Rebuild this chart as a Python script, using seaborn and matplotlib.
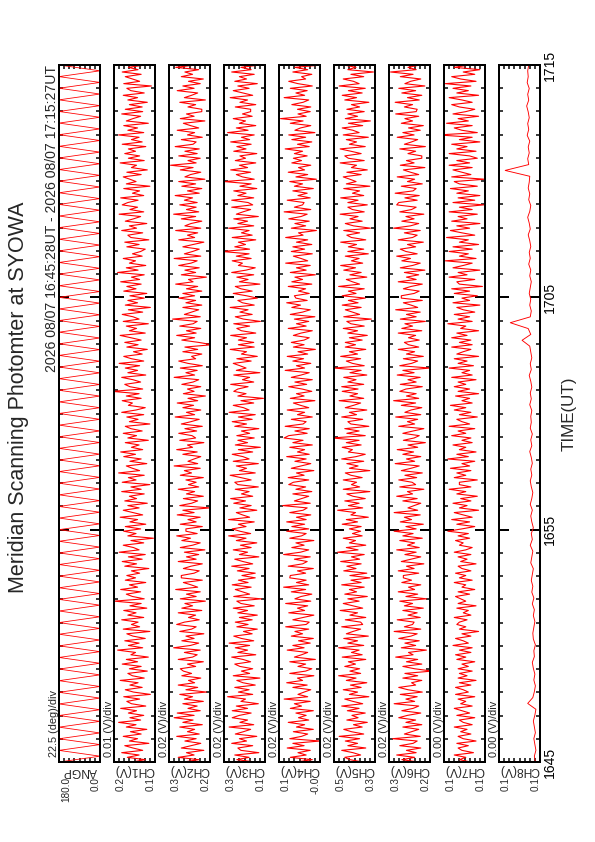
import numpy as np
import matplotlib
matplotlib.use('Agg')
import matplotlib.pyplot as plt
from matplotlib.ticker import FixedLocator, MultipleLocator
import seaborn as sns

# chart texts
title = 'Meridian Scanning Photomter at SYOWA'
period = '2026 08/07 16:45:28UT - 2026 08/07 17:15:27UT'
time_ticks = [0, 10, 20, 30]          # minutes after 16:45
time_labels = ['1645', '1655', '1705', '1715']

# panels (left to right)
names = ['ANGP', 'CH1(V)', 'CH2(V)', 'CH3(V)', 'CH4(V)', 'CH5(V)', 'CH6(V)', 'CH7(V)', 'CH8(V)']
units = ['deg', 'V', 'V', 'V', 'V', 'V', 'V', 'V', 'V']
lows = [0.0, 0.13, 0.17, 0.14, -0.03, 0.34, 0.18, 0.090, 0.100]
divs = [22.5, 0.01, 0.02, 0.02, 0.02, 0.02, 0.02, 0.004, 0.001]

# scan angle (deg), turning points of the meridian scan
angp = [180, 0, 180, 0, 180, 0, 180, 0, 180, 0, 180, 0, 180, 0, 180, 0, 180, 0, 180, 0,
        180, 0, 180, 0, 180, 0, 180, 0, 180, 0, 180, 0, 180, 0, 180, 0, 180, 0, 180, 0,
        180, 0, 180, 0, 180, 0, 180, 0, 180, 0, 180, 0, 180, 0, 180, 0, 180, 0, 180, 0,
        180, 0, 180, 0, 180, 0, 180, 0, 180, 0, 180, 0, 180, 0, 180, 0, 180, 0, 180, 0,
        180, 0, 180, 0, 180, 0, 180, 0, 180, 0, 180, 0, 180, 0, 180, 0, 180, 0, 180, 0,
        180, 0, 180, 0, 180, 0, 180, 0, 180, 0, 180, 0, 180, 0, 180, 0, 180, 0, 180, 0, 180]

# photometer channels (mV), 16:45 -> 17:15
ch1 = [175, 149, 184, 161, 195, 154, 173, 189, 142, 180, 164, 192, 157, 178, 146, 186, 167, 201, 158, 179,
       152, 182, 166, 197, 148, 176, 185, 160, 191, 139, 172, 188, 155, 179, 163, 198, 151, 174, 183, 145,
       180, 157, 194, 164, 186, 143, 177, 168, 203, 154, 182, 161, 189, 149, 173, 185, 140, 192, 160, 176,
       163, 195, 152, 183, 167, 191, 146, 179, 157, 210, 151, 174, 186, 158, 197, 164, 180, 148, 188, 168,
       185, 160, 176, 142, 189, 166, 194, 155, 182, 149, 200, 161, 172, 192, 152, 177, 133, 183, 167, 191,
       158, 188, 148, 179, 164, 198, 154, 173, 192, 161, 183, 145, 189, 166, 180, 151, 195, 157, 177, 140,
       194, 167, 182, 151, 201, 160, 174, 186, 146, 179, 157, 191, 168, 197, 154, 176, 161, 188, 143, 183,
       166, 192, 155, 177, 188, 140, 180, 163, 185, 152, 195, 167, 149, 182, 174, 194, 157, 186, 161, 214,
       154, 179, 189, 158, 173, 195, 148, 183, 164, 188, 160, 200, 152, 176, 191, 155, 172, 145, 185, 163,
       189, 157, 177, 198, 149, 180, 166, 186, 143, 192, 161, 173, 194, 154, 182, 139, 188, 164, 183, 151,
       179, 146, 191, 167, 185, 157, 197, 160, 176, 151, 203, 163, 186, 148, 180, 168, 192, 155, 174, 158,
       149, 185, 161, 189, 142, 177, 183, 154, 195, 166, 180, 146, 188, 172, 158, 200, 152, 179, 164, 194,
       183, 163, 197, 152, 174, 160, 191, 140, 186, 167, 179, 192, 157, 185, 145, 176, 166, 198, 151, 182,
       160, 189, 168, 182, 148, 194, 155, 176, 161, 201, 152, 183, 164, 191, 143, 186, 173, 158, 195, 154,
       188, 155, 180, 145, 183, 164, 192, 151, 177, 185, 137, 191, 160, 174, 188, 157, 194, 163, 182, 149]

ch2 = [274, 214, 294, 232, 262, 194, 282, 244, 206, 268, 224, 300, 212, 258, 230, 288, 200, 276, 236, 310,
       232, 298, 208, 256, 220, 276, 196, 270, 238, 288, 184, 264, 218, 294, 230, 254, 206, 280, 242, 274,
       286, 226, 258, 196, 294, 238, 220, 270, 208, 312, 246, 214, 280, 232, 264, 194, 288, 242, 224, 300,
       270, 212, 254, 226, 294, 202, 280, 238, 268, 188, 286, 224, 262, 208, 304, 218, 244, 274, 200, 282,
       282, 232, 212, 274, 244, 200, 294, 224, 262, 214, 270, 190, 286, 238, 208, 280, 246, 300, 220, 264,
       264, 200, 286, 224, 256, 208, 298, 232, 276, 170, 288, 242, 218, 274, 196, 262, 230, 294, 214, 254,
       224, 264, 196, 286, 242, 270, 208, 310, 218, 256, 232, 206, 276, 220, 300, 238, 258, 194, 288, 226,
       240, 292, 222, 268, 200, 282, 244, 212, 306, 230, 262, 206, 276, 234, 298, 218, 256, 188, 274, 232,
       258, 206, 280, 236, 214, 310, 230, 264, 220, 286, 200, 256, 292, 226, 242, 202, 276, 218, 268, 162,
       214, 280, 230, 300, 224, 262, 206, 288, 236, 220, 316, 208, 270, 242, 214, 276, 202, 264, 226, 292,
       230, 276, 202, 262, 218, 304, 236, 254, 184, 282, 226, 268, 212, 292, 244, 220, 310, 206, 270, 238,
       212, 276, 236, 194, 292, 230, 258, 218, 304, 206, 268, 244, 202, 282, 226, 312, 214, 262, 224, 288,
       220, 270, 238, 306, 212, 258, 202, 280, 226, 292, 190, 268, 246, 206, 286, 236, 324, 224, 256, 208,
       292, 220, 268, 212, 306, 236, 224, 282, 200, 258, 230, 298, 214, 246, 274, 190, 286, 232, 262, 202,
       202, 256, 226, 288, 188, 270, 242, 218, 298, 232, 276, 208, 254, 196, 282, 238, 268, 214, 304, 224]

ch3 = [178, 250, 202, 258, 164, 234, 246, 188, 270, 212, 240, 172, 256, 224, 196, 280, 184, 238, 208, 268,
       240, 194, 268, 208, 252, 166, 234, 216, 286, 188, 244, 202, 258, 178, 226, 250, 160, 264, 200, 232,
       188, 238, 258, 196, 226, 270, 176, 246, 208, 256, 200, 280, 184, 232, 262, 190, 224, 170, 250, 206,
       256, 190, 240, 170, 246, 208, 264, 182, 234, 250, 154, 262, 200, 228, 256, 194, 268, 206, 244, 178,
       230, 178, 248, 202, 270, 188, 226, 258, 164, 240, 208, 264, 194, 236, 172, 252, 214, 282, 196, 238,
       268, 214, 244, 182, 282, 200, 228, 252, 172, 238, 194, 262, 216, 274, 188, 232, 202, 256, 166, 246,
       258, 194, 234, 276, 178, 240, 212, 252, 166, 264, 202, 226, 268, 188, 244, 158, 256, 208, 246, 182,
       250, 200, 232, 164, 258, 212, 268, 190, 244, 178, 280, 202, 224, 264, 184, 234, 146, 246, 214, 262,
       246, 206, 274, 184, 228, 200, 262, 160, 252, 214, 238, 264, 194, 250, 170, 232, 212, 276, 182, 244,
       184, 244, 212, 274, 176, 232, 250, 200, 262, 158, 224, 256, 190, 238, 206, 276, 182, 228, 246, 170,
       212, 264, 190, 234, 256, 160, 240, 206, 250, 184, 270, 214, 178, 244, 228, 268, 194, 252, 202, 308,
       200, 258, 216, 244, 176, 268, 190, 232, 202, 282, 184, 246, 208, 262, 166, 252, 226, 196, 270, 188,
       206, 270, 184, 246, 214, 262, 172, 238, 194, 300, 182, 228, 252, 196, 274, 208, 240, 176, 256, 216,
       238, 172, 262, 214, 250, 194, 274, 200, 232, 182, 286, 206, 252, 176, 240, 216, 264, 190, 228, 196,
       196, 256, 176, 238, 208, 276, 188, 226, 264, 202, 246, 170, 258, 212, 240, 182, 270, 194, 234, 160]

ch4 = [64, 0, 86, 24, 56, 8, 98, 32, 76, -30, 88, 42, 18, 74, -4, 62, 30, 94, 14, 54,
       24, 64, -4, 86, 42, 70, 8, 110, 18, 56, 32, 6, 76, 20, 100, 38, 58, -6, 88, 26,
       2, 56, 26, 88, -12, 70, 42, 18, 98, 32, 76, 8, 54, -4, 82, 38, 68, 14, 104, 24,
       12, 76, 36, -6, 92, 30, 58, 18, 104, 6, 68, 44, 2, 82, 26, 112, 14, 62, 24, 88,
       86, 26, 58, -4, 94, 38, 20, 70, 8, 112, 46, 14, 80, 32, 64, -6, 88, 42, 24, 100,
       14, 80, 30, 100, 24, 62, 6, 88, 36, 20, 116, 8, 70, 42, 14, 76, 2, 64, 26, 92,
       74, 14, 94, 32, 62, -6, 82, 44, 6, 68, 24, 100, 12, 58, 30, 88, 0, 76, 36, 110,
       92, 20, 68, 12, 106, 36, 24, 82, 0, 58, 30, 98, 14, 46, 74, -10, 86, 32, 62, 2,
       40, 92, 22, 68, 0, 82, 44, 12, 106, 30, 62, 6, 76, 34, 98, 18, 56, -12, 74, 32,
       82, 32, 12, 74, 44, 0, 94, 24, 62, 14, 70, -10, 86, 38, 8, 80, 46, 100, 20, 64,
       70, 12, 54, 26, 94, 2, 80, 38, 68, -12, 86, 24, 62, 8, 104, 18, 44, 74, 0, 82,
       30, 76, 2, 62, 18, 104, 36, 54, -16, 82, 26, 68, 12, 92, 44, 20, 110, 6, 70, 38,
       32, 98, 8, 56, 20, 76, -4, 70, 38, 88, -16, 64, 18, 94, 30, 54, 6, 80, 42, 74,
       20, 70, 38, 106, 12, 58, 2, 80, 26, 92, -10, 68, 46, 6, 86, 36, 124, 24, 56, 8,
       58, 6, 80, 36, 14, 110, 30, 64, 20, 86, 0, 56, 92, 26, 42, 2, 76, 18, 68, -38]

ch5 = [388, 438, 458, 396, 426, 470, 376, 446, 408, 456, 400, 480, 384, 432, 462, 390, 424, 370, 450, 406,
       430, 378, 448, 402, 470, 388, 426, 458, 364, 440, 408, 464, 394, 436, 372, 452, 414, 482, 396, 438,
       400, 458, 416, 444, 376, 468, 390, 432, 402, 482, 384, 446, 408, 462, 366, 452, 426, 396, 470, 388,
       396, 456, 376, 438, 408, 476, 388, 426, 464, 402, 446, 370, 458, 412, 440, 382, 470, 394, 434, 360,
       438, 372, 462, 414, 450, 394, 474, 400, 432, 382, 486, 406, 452, 376, 440, 416, 464, 390, 428, 396,
       440, 394, 468, 408, 452, 366, 434, 416, 486, 388, 444, 402, 458, 378, 426, 450, 360, 464, 400, 432,
       412, 464, 390, 434, 456, 360, 440, 406, 450, 384, 470, 414, 378, 444, 428, 468, 394, 452, 402, 508,
       378, 450, 402, 458, 364, 434, 446, 388, 470, 412, 440, 372, 456, 424, 396, 480, 384, 438, 408, 468,
       406, 470, 384, 446, 414, 462, 372, 438, 394, 500, 382, 428, 452, 396, 474, 408, 440, 376, 456, 416,
       456, 390, 440, 370, 446, 408, 464, 382, 434, 450, 354, 462, 400, 428, 456, 394, 468, 406, 444, 378,
       468, 414, 444, 382, 482, 400, 428, 452, 372, 438, 394, 462, 416, 474, 388, 432, 402, 456, 366, 446,
       384, 444, 412, 474, 376, 432, 450, 400, 462, 358, 424, 456, 390, 438, 406, 476, 382, 428, 446, 370,
       446, 406, 474, 384, 428, 400, 462, 360, 452, 414, 438, 464, 394, 450, 370, 432, 412, 476, 382, 444,
       458, 394, 434, 476, 378, 440, 412, 452, 366, 464, 402, 426, 468, 388, 444, 358, 456, 408, 446, 382,
       450, 400, 432, 364, 458, 412, 468, 390, 444, 378, 480, 402, 424, 464, 384, 434, 346, 446, 414, 462]

ch6 = [224, 290, 240, 310, 234, 272, 216, 298, 246, 230, 326, 218, 280, 252, 224, 286, 212, 274, 236, 302,
       268, 216, 290, 246, 224, 320, 240, 274, 230, 296, 210, 266, 302, 236, 252, 212, 286, 228, 278, 172,
       240, 286, 212, 272, 228, 314, 246, 264, 194, 292, 236, 278, 222, 302, 254, 230, 320, 216, 280, 248,
       242, 308, 218, 266, 230, 286, 206, 280, 248, 298, 194, 274, 228, 304, 240, 264, 216, 290, 252, 284,
       284, 224, 304, 242, 272, 204, 292, 254, 216, 278, 234, 310, 222, 268, 240, 298, 210, 286, 246, 320,
       234, 274, 206, 296, 252, 280, 218, 320, 228, 266, 242, 216, 286, 230, 310, 248, 268, 204, 298, 236,
       250, 302, 232, 278, 210, 292, 254, 222, 316, 240, 272, 216, 286, 244, 308, 228, 266, 198, 284, 242,
       222, 286, 246, 204, 302, 240, 268, 228, 314, 216, 278, 254, 212, 292, 236, 322, 224, 272, 234, 298,
       274, 210, 296, 234, 266, 218, 308, 242, 286, 180, 298, 252, 228, 284, 206, 272, 240, 304, 224, 264,
       280, 222, 264, 236, 304, 212, 290, 248, 278, 198, 296, 234, 272, 218, 314, 228, 254, 284, 210, 292,
       292, 242, 222, 284, 254, 210, 304, 234, 272, 224, 280, 200, 296, 248, 218, 290, 256, 310, 230, 274,
       296, 236, 268, 206, 304, 248, 230, 280, 218, 322, 256, 224, 290, 242, 274, 204, 298, 252, 234, 310,
       302, 230, 278, 222, 316, 246, 234, 292, 210, 268, 240, 308, 224, 256, 284, 200, 296, 242, 272, 212,
       212, 266, 236, 298, 198, 280, 252, 228, 308, 242, 286, 218, 264, 206, 292, 248, 278, 224, 314, 234,
       230, 280, 248, 316, 222, 268, 212, 290, 236, 302, 200, 278, 256, 216, 296, 246, 334, 234, 266, 218]

ch7 = [101, 110, 105, 114, 99, 108, 111, 103, 112, 97, 107, 111, 101, 109, 104, 114, 100, 107, 110, 98,
       112, 102, 108, 114, 100, 109, 105, 111, 98, 113, 103, 107, 113, 101, 110, 97, 111, 104, 110, 100,
       111, 103, 108, 98, 112, 105, 113, 101, 110, 100, 115, 103, 107, 113, 101, 108, 95, 110, 105, 112,
       110, 104, 114, 101, 107, 103, 112, 97, 111, 105, 109, 113, 102, 111, 98, 108, 105, 114, 100, 110,
       105, 113, 101, 108, 111, 97, 109, 104, 111, 101, 114, 105, 100, 110, 107, 113, 102, 111, 103, 119,
       108, 98, 112, 102, 116, 100, 107, 114, 95, 110, 104, 115, 101, 109, 96, 112, 105, 118, 101, 110,
       110, 96, 114, 105, 112, 101, 117, 102, 108, 98, 119, 103, 112, 97, 110, 105, 115, 100, 108, 101,
       116, 105, 111, 98, 118, 102, 108, 112, 96, 110, 101, 114, 105, 117, 100, 108, 102, 113, 95, 111,
       102, 114, 105, 111, 97, 116, 100, 108, 102, 118, 99, 111, 104, 114, 95, 112, 107, 101, 116, 100,
       110, 101, 116, 104, 112, 95, 109, 105, 119, 100, 111, 102, 114, 98, 107, 112, 94, 115, 102, 108,
       96, 114, 102, 116, 92, 110, 112, 98, 118, 104, 111, 94, 115, 107, 100, 121, 97, 110, 103, 118,
       100, 115, 95, 110, 103, 120, 98, 108, 117, 102, 112, 94, 116, 104, 111, 96, 118, 100, 110, 91,
       115, 98, 111, 94, 112, 103, 117, 96, 110, 114, 90, 116, 101, 108, 115, 100, 118, 102, 112, 96,
       102, 118, 97, 112, 104, 116, 94, 110, 100, 126, 96, 108, 114, 100, 120, 103, 111, 95, 115, 105,
       98, 110, 116, 100, 108, 118, 95, 112, 103, 115, 101, 121, 97, 109, 116, 98, 107, 94, 114, 102]

ch8 = [100.9, 101.1, 100.8, 101.0, 101.2, 100.9, 101.1, 101.3, 101.0, 100.8, 102.4, 101.4, 101.1, 100.9, 101.2,
       101.0, 101.3, 101.5, 101.1, 101.2, 100.9, 101.3, 101.4, 101.2, 101.0, 101.3, 101.1, 101.5, 101.2, 101.6,
       101.4, 101.7, 101.5, 101.3, 101.8, 101.6, 101.4, 101.9, 101.5, 101.7, 101.3, 101.6, 101.8, 101.5, 101.9,
       101.6, 101.4, 101.7, 101.9, 101.6, 101.8, 101.5, 101.7, 102.0, 101.6, 101.8, 101.5, 101.9, 101.7, 101.8,
       101.6, 102.0, 101.7, 101.9, 101.6, 101.8, 102.1, 101.7, 101.9, 101.6, 101.8, 102.0, 103.5, 101.8, 102.3,
       105.8, 101.9, 101.7, 102.0, 101.8, 102.1, 101.9, 101.7, 102.0, 101.8, 102.2, 101.9, 102.1, 101.8, 102.0,
       102.3, 101.9, 102.1, 102.4, 102.0, 101.8, 102.2, 102.0, 102.3, 102.1, 102.0, 106.8, 102.2, 102.4, 102.1,
       102.3, 102.0, 102.5, 102.2, 102.4, 102.1, 102.3, 102.6, 102.2, 102.4, 102.1, 102.5, 102.3, 102.4, 102.2]

series = [np.array(angp, float)] + [np.array(c, float) / 1000 for c in [ch1, ch2, ch3, ch4, ch5, ch6, ch7, ch8]]
widths = [0.8, 1.1, 1.1, 1.1, 1.1, 1.1, 1.1, 1.1, 0.9]

sns.set_theme(style='white', rc={'axes.edgecolor': 'black', 'axes.linewidth': 2,
                                 'xtick.color': 'black', 'ytick.color': 'black'})
plt.rcParams['font.family'] = ['Liberation Sans', 'DejaVu Sans']

W, H = 595, 842
fig = plt.figure(figsize=(W / 72, H / 72), dpi=72)

axes = []
for i, (name, unit, lo, div, vals) in enumerate(zip(names, units, lows, divs, series)):
    ax = fig.add_axes([(59 + 55 * i) / W, 80 / H, 41 / W, 697 / H])
    t = np.linspace(0, 30, len(vals))
    sns.lineplot(x=vals, y=t, orient='y', sort=False, estimator=None,
                 color='red', linewidth=widths[i], ax=ax)
    hi = lo + 8 * div
    ax.set_xlim(hi, lo)
    ax.set_ylim(0, 30)
    ax.set_xlabel('')
    ax.set_ylabel('')

    # value axis: one tick per division, top and bottom
    ax.set_xticks(lo + div * np.arange(9))
    ax.tick_params(axis='x', which='both', direction='in', top=True, bottom=True,
                   length=4, width=1.5, labelbottom=False)
    # time axis
    ax.yaxis.set_major_locator(FixedLocator(time_ticks))
    ax.yaxis.set_minor_locator(MultipleLocator(1))
    ax.tick_params(axis='y', which='major', direction='in', left=True, right=True,
                   length=10, width=2, labelleft=False)
    ax.tick_params(axis='y', which='minor', direction='in', left=True, right=True,
                   length=4, width=1.5)

    # range labels under the panel
    ax.annotate('%.1f' % hi, xy=(0, 0), xycoords='axes fraction', xytext=(2, -15),
                textcoords='offset points', rotation=90, ha='left', va='top', fontsize=10)
    ax.annotate('%.1f' % lo, xy=(1, 0), xycoords='axes fraction', xytext=(1, -15),
                textcoords='offset points', rotation=90, ha='right', va='top', fontsize=10)
    ax.annotate(name, xy=(0.5, 0), xycoords='axes fraction', xytext=(0, -2.5),
                textcoords='offset points', rotation=180, ha='center', va='top', fontsize=12)
    fmt = '%.1f' if unit == 'deg' else '%.2f'
    ax.annotate((fmt % div) + ' (%s)/div' % unit, xy=(0, 0), xycoords='axes fraction',
                xytext=(0, 5), textcoords='offset points', rotation=90,
                ha='right', va='bottom', fontsize=11)
    axes.append(ax)

axes[0].annotate(period, xy=(0, 1), xycoords='axes fraction', xytext=(0, 0),
                 textcoords='offset points', rotation=90, ha='right', va='top', fontsize=14)

last = axes[-1]
last.tick_params(axis='y', which='major', labelright=True, pad=2.5)
last.set_yticklabels(time_labels, rotation=90, va='center', fontsize=14)
last.yaxis.set_label_position('right')
last.set_ylabel('TIME(UT)', rotation=90, fontsize=17, labelpad=5)

fig.text(19 / W, 1 - 397 / H, title, rotation=90, ha='center', va='center', fontsize=21.5)

fig.savefig('out.png', dpi=72)
